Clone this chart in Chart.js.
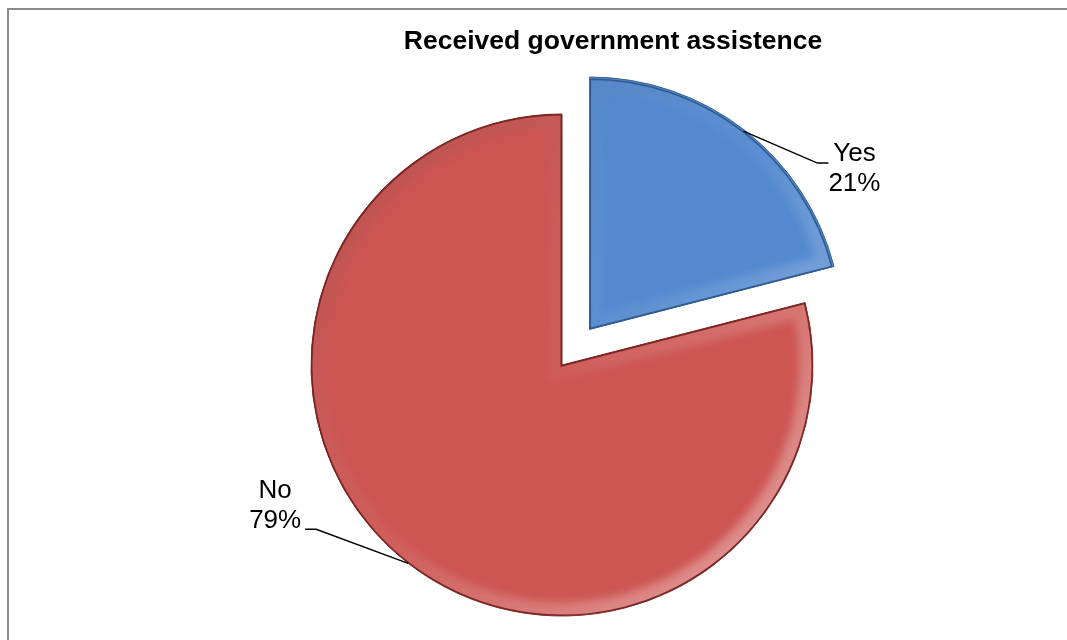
<!DOCTYPE html>
<html>
<head>
<meta charset="utf-8">
<title>Received government assistence</title>
<script src="https://cdn.jsdelivr.net/npm/chart.js@4/dist/chart.umd.min.js"></script>
<style>
  html, body { margin: 0; padding: 0; background: #fff; overflow: hidden; }
  .frame {
    position: absolute; left: 7px; top: 8px;
    width: 1200px; height: 800px;
    border: 2px solid #8a8a8a;
  }
  #pie { position: absolute; left: 0; top: 0; }
</style>
</head>
<body>
<div class="frame"></div>
<canvas id="pie" width="1067" height="640"></canvas>
<script>
const chartTitle = "Received government assistence";
const answers = ["Yes", "No"];
const shares = [21, 79];
const sliceColors = ["#5389cf", "#cd5552"];
const edgeColors = ["#2f5a8f", "#7a2524"];

// where each leader line bends, relative to the rim point of its slice
const leaders = [
  { dx: 74, dy: 32, tail: 11, textDx: 26, textDy: -9 },
  { dx: -92, dy: -34, tail: -11, textDx: -30, textDy: -39 }
];

const sliceDecor = {
  id: "sliceDecor",
  afterDatasetsDraw(chart) {
    const ctx = chart.ctx;
    const meta = chart.getDatasetMeta(0);

    meta.data.forEach((arc, i) => {
      const mid = (arc.startAngle + arc.endAngle) / 2;
      const shift = (arc.options.offset || 0) / 4;
      const cx = arc.x + Math.cos(mid) * shift;
      const cy = arc.y + Math.sin(mid) * shift;
      const r = arc.outerRadius;

      // soft bevel along the slice edges, lit from the lower right
      ctx.save();
      ctx.beginPath();
      ctx.moveTo(cx, cy);
      ctx.arc(cx, cy, r, arc.startAngle, arc.endAngle);
      ctx.closePath();
      ctx.clip();
      const g = ctx.createLinearGradient(cx - r, cy - r, cx + r, cy + r);
      g.addColorStop(0, "rgba(0,0,0,0.12)");
      g.addColorStop(0.5, "rgba(255,255,255,0.05)");
      g.addColorStop(1, "rgba(255,255,255,0.45)");
      ctx.filter = "blur(4px)";
      ctx.lineWidth = 28;
      ctx.strokeStyle = g;
      ctx.stroke();
      ctx.filter = "none";
      ctx.lineWidth = 3;
      ctx.strokeStyle = edgeColors[i];
      ctx.stroke();
      ctx.restore();

      // leader line and label
      const ax = cx + Math.cos(mid) * r;
      const ay = cy + Math.sin(mid) * r;
      const l = leaders[i];
      const bx = ax + l.dx, by = ay + l.dy;
      const ex = bx + l.tail;
      ctx.save();
      ctx.strokeStyle = "#000";
      ctx.lineWidth = 1.5;
      ctx.beginPath();
      ctx.moveTo(ax, ay);
      ctx.lineTo(bx, by);
      ctx.lineTo(ex, by);
      ctx.stroke();

      ctx.fillStyle = "#000";
      ctx.font = "26px 'Liberation Sans', Arial, sans-serif";
      ctx.textAlign = "center";
      ctx.textBaseline = "middle";
      const tx = ex + l.textDx;
      const ty = by + l.textDy;
      ctx.fillText(answers[i], tx, ty);
      ctx.fillText(shares[i] + "%", tx, ty + 30);
      ctx.restore();
    });

    // chart heading
    ctx.save();
    ctx.fillStyle = "#000";
    ctx.font = "bold 26.5px 'Liberation Sans', Arial, sans-serif";
    ctx.textAlign = "center";
    ctx.textBaseline = "middle";
    ctx.fillText(chartTitle, 613, 42);
    ctx.restore();
  }
};

new Chart(document.getElementById("pie"), {
  type: "pie",
  data: {
    labels: answers,
    datasets: [{
      data: shares,
      backgroundColor: sliceColors,
      borderColor: edgeColors,
      borderWidth: 1,
      offset: [180, 0]
    }]
  },
  options: {
    responsive: false,
    animation: false,
    radius: 251,
    clip: false,
    layout: { padding: { left: 57, right: 0, top: 90, bottom: 0 } },
    plugins: {
      legend: { display: false },
      title: { display: false },
      tooltip: { enabled: false }
    }
  },
  plugins: [sliceDecor]
});
</script>
</body>
</html>
